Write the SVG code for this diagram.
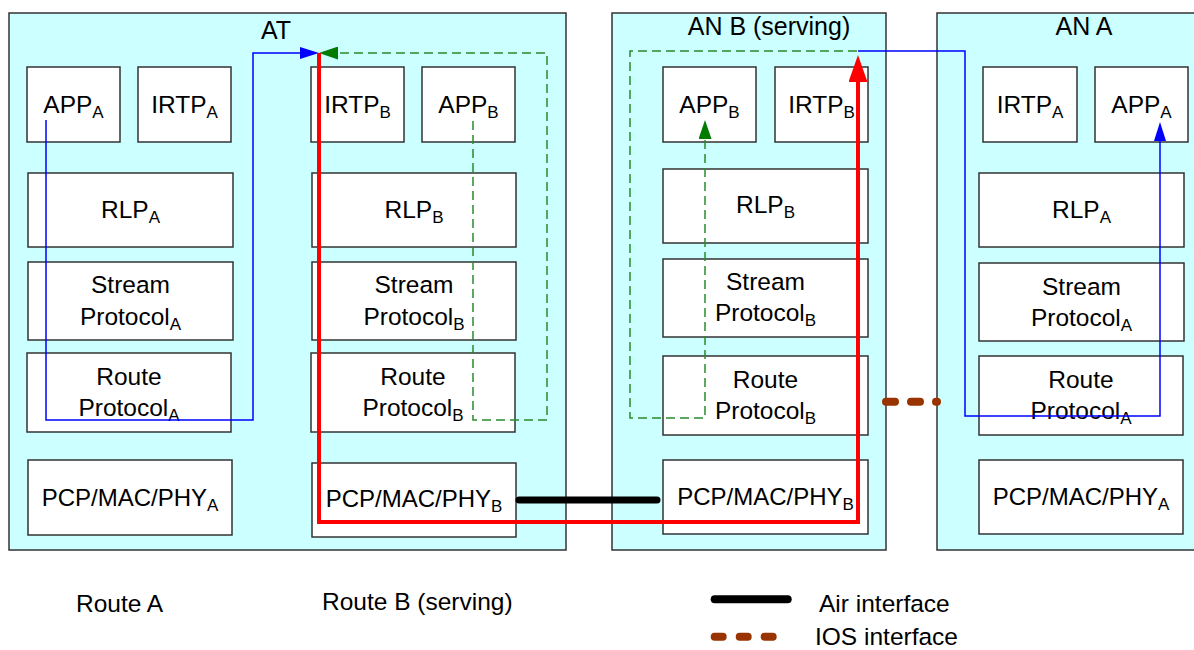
<svg xmlns="http://www.w3.org/2000/svg" width="1194" height="650" viewBox="0 0 1194 650">
<style>
.cont{fill:#CCFFFF;stroke:#333;stroke-width:1.5}
.box{fill:#FFFFFF;stroke:#333;stroke-width:1.5}
text{font-family:"Liberation Sans",Arial,sans-serif;fill:#000}
.lbl{font-size:24.5px;text-anchor:middle}
.pcp{font-size:24px;text-anchor:middle}
.ttl{font-size:25px;text-anchor:middle}
.leg{font-size:24.5px}
.sub{font-size:17px}
.blue{fill:none;stroke:#0000FF;stroke-width:1.5}
.green{fill:none;stroke:#2A8A2A;stroke-width:1.5;stroke-dasharray:9 5}
.red{fill:none;stroke:#FF0000;stroke-width:4}
</style>
<defs>
<marker id="ab" viewBox="0 0 19 12" refX="0" refY="6" markerWidth="19" markerHeight="12" markerUnits="userSpaceOnUse" orient="auto"><path d="M0,0 L19,6 L0,12 z" fill="#0000FF"/></marker>
<marker id="ag" viewBox="0 0 19 13" refX="0" refY="6.5" markerWidth="19" markerHeight="13" markerUnits="userSpaceOnUse" orient="auto"><path d="M0,0 L19,6.5 L0,13 z" fill="#007A00"/></marker>
<marker id="ar" viewBox="0 0 27 19" refX="0" refY="9.5" markerWidth="27" markerHeight="19" markerUnits="userSpaceOnUse" orient="auto"><path d="M0,0 L27,9.5 L0,19 z" fill="#FF0000"/></marker>
</defs>
<rect width="1194" height="650" fill="#FFFFFF"/>

<g id="AT">
<rect class="cont" x="9" y="13" width="557" height="537"/>
<text class="ttl" x="276" y="39">AT</text>
</g>
<g id="ANB">
<rect class="cont" x="612" y="13" width="274" height="537"/>
<text class="ttl" x="769" y="35">AN B (serving)</text>
</g>
<g id="ANA">
<rect class="cont" x="937" y="13" width="270" height="537"/>
<text class="ttl" x="1084" y="35">AN A</text>
</g>

<!-- AT column A -->
<g id="at-appA"><rect class="box" x="27" y="67" width="93" height="75"/><text class="lbl" x="73.5" y="113">APP<tspan class="sub" dy="5">A</tspan></text></g>
<g id="at-irtpA"><rect class="box" x="138" y="67" width="93" height="75"/><text class="lbl" x="184.5" y="113">IRTP<tspan class="sub" dy="5">A</tspan></text></g>
<g id="at-rlpA"><rect class="box" x="28" y="173" width="205" height="74"/><text class="lbl" x="130.5" y="218">RLP<tspan class="sub" dy="5">A</tspan></text></g>
<g id="at-streamA"><rect class="box" x="28" y="262" width="205" height="78"/><text class="lbl" x="130.5" y="293">Stream</text><text class="lbl" x="130.5" y="325">Protocol<tspan class="sub" dy="5">A</tspan></text></g>
<g id="at-routeA"><rect class="box" x="27" y="353" width="204" height="79"/><text class="lbl" x="129" y="385">Route</text><text class="lbl" x="129" y="416">Protocol<tspan class="sub" dy="5">A</tspan></text></g>
<g id="at-pcpA"><rect class="box" x="28" y="460" width="204" height="75"/><text class="pcp" x="130" y="506">PCP/MAC/PHY<tspan class="sub" dy="5">A</tspan></text></g>

<!-- AT column B -->
<g id="at-irtpB"><rect class="box" x="311" y="67" width="93" height="75"/><text class="lbl" x="357.5" y="113">IRTP<tspan class="sub" dy="5">B</tspan></text></g>
<g id="at-appB"><rect class="box" x="422" y="67" width="93" height="75"/><text class="lbl" x="468.5" y="113">APP<tspan class="sub" dy="5">B</tspan></text></g>
<g id="at-rlpB"><rect class="box" x="312" y="173" width="204" height="74"/><text class="lbl" x="414" y="218">RLP<tspan class="sub" dy="5">B</tspan></text></g>
<g id="at-streamB"><rect class="box" x="312" y="262" width="204" height="78"/><text class="lbl" x="414" y="293">Stream</text><text class="lbl" x="414" y="325">Protocol<tspan class="sub" dy="5">B</tspan></text></g>
<g id="at-routeB"><rect class="box" x="311" y="353" width="204" height="79"/><text class="lbl" x="413" y="385">Route</text><text class="lbl" x="413" y="416">Protocol<tspan class="sub" dy="5">B</tspan></text></g>
<g id="at-pcpB"><rect class="box" x="312" y="463" width="204" height="74"/><text class="pcp" x="414" y="507">PCP/MAC/PHY<tspan class="sub" dy="5">B</tspan></text></g>

<!-- AN B -->
<g id="anb-appB"><rect class="box" x="663" y="67" width="93" height="75"/><text class="lbl" x="709.5" y="113">APP<tspan class="sub" dy="5">B</tspan></text></g>
<g id="anb-irtpB"><rect class="box" x="775" y="67" width="93" height="75"/><text class="lbl" x="821.5" y="113">IRTP<tspan class="sub" dy="5">B</tspan></text></g>
<g id="anb-rlpB"><rect class="box" x="663" y="169" width="205" height="74"/><text class="lbl" x="765.5" y="213">RLP<tspan class="sub" dy="5">B</tspan></text></g>
<g id="anb-streamB"><rect class="box" x="663" y="259" width="205" height="78"/><text class="lbl" x="765.5" y="290">Stream</text><text class="lbl" x="765.5" y="321">Protocol<tspan class="sub" dy="5">B</tspan></text></g>
<g id="anb-routeB"><rect class="box" x="663" y="356" width="205" height="79"/><text class="lbl" x="765.5" y="388">Route</text><text class="lbl" x="765.5" y="419">Protocol<tspan class="sub" dy="5">B</tspan></text></g>
<g id="anb-pcpB"><rect class="box" x="663" y="460" width="205" height="74"/><text class="pcp" x="765.5" y="505">PCP/MAC/PHY<tspan class="sub" dy="5">B</tspan></text></g>

<!-- AN A -->
<g id="ana-irtpA"><rect class="box" x="983" y="67" width="94" height="75"/><text class="lbl" x="1030" y="113">IRTP<tspan class="sub" dy="5">A</tspan></text></g>
<g id="ana-appA"><rect class="box" x="1095" y="67" width="93" height="75"/><text class="lbl" x="1141.5" y="113">APP<tspan class="sub" dy="5">A</tspan></text></g>
<g id="ana-rlpA"><rect class="box" x="979" y="173" width="205" height="74"/><text class="lbl" x="1081.5" y="218">RLP<tspan class="sub" dy="5">A</tspan></text></g>
<g id="ana-streamA"><rect class="box" x="979" y="263" width="205" height="78"/><text class="lbl" x="1081.5" y="295">Stream</text><text class="lbl" x="1081.5" y="326">Protocol<tspan class="sub" dy="5">A</tspan></text></g>
<g id="ana-routeA"><rect class="box" x="979" y="356" width="204" height="79"/><text class="lbl" x="1081" y="388">Route</text><text class="lbl" x="1081" y="419">Protocol<tspan class="sub" dy="5">A</tspan></text></g>
<g id="ana-pcpA"><rect class="box" x="979" y="460" width="204" height="74"/><text class="pcp" x="1081" y="505">PCP/MAC/PHY<tspan class="sub" dy="5">A</tspan></text></g>

<g id="connectors">
<path class="blue" d="M46,120 V420 H253 V53 H300" marker-end="url(#ab)"/>
<path class="green" d="M473,121 V420 H547 V53 H338" marker-end="url(#ag)"/>
<path class="red" d="M319,53 V522 H858 V82" marker-end="url(#ar)"/>
<path class="green" d="M857,51 H630 V418 H705 V139" marker-end="url(#ag)"/>
<path class="blue" d="M858,51 H965 V416 H1160 V141" marker-end="url(#ab)"/>
<line x1="519" y1="500" x2="657" y2="500" stroke="#000" stroke-width="7" stroke-linecap="round"/>
<line x1="886" y1="401.7" x2="937" y2="401.7" stroke="#993300" stroke-width="8" stroke-linecap="round" stroke-dasharray="9 16"/>
</g>

<g id="legend">
<text class="leg" x="76" y="612">Route A</text>
<text class="leg" x="322" y="610">Route B (serving)</text>
<line x1="714.7" y1="599.3" x2="787.7" y2="599.3" stroke="#000" stroke-width="8" stroke-linecap="round"/>
<text class="leg" x="819" y="612">Air interface</text>
<line x1="714.7" y1="636.7" x2="773" y2="636.7" stroke="#993300" stroke-width="8" stroke-linecap="round" stroke-dasharray="8 17"/>
<text class="leg" x="815" y="645">IOS interface</text>
</g>
</svg>
